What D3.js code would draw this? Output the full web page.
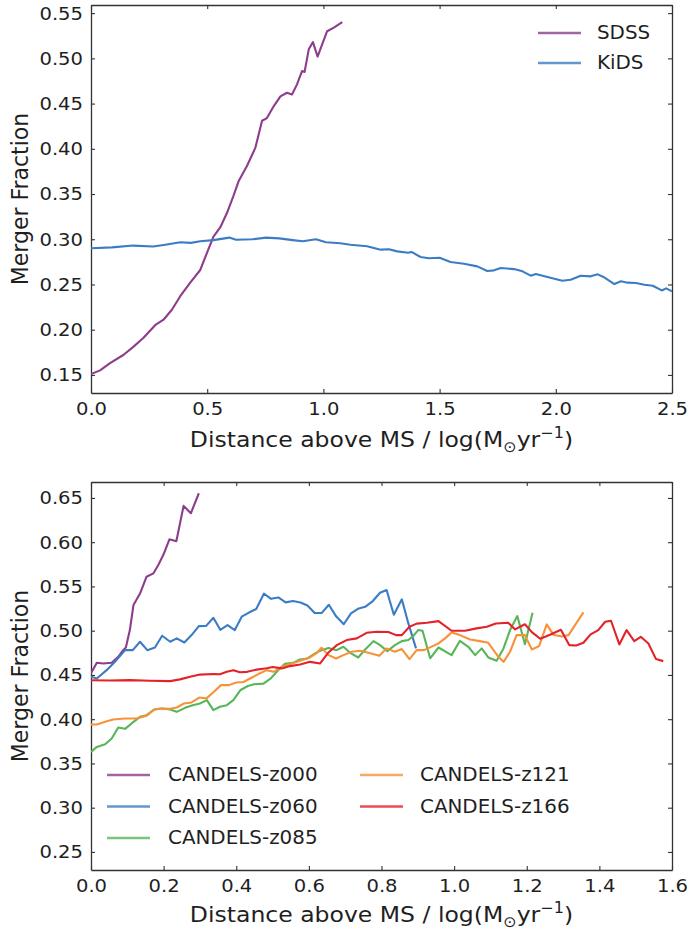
<!DOCTYPE html>
<html><head><meta charset="utf-8">
<script src="https://cdn.jsdelivr.net/npm/d3@7"></script>
<style>
body{margin:0;background:#fff;}
svg text{font-family:"DejaVu Sans",sans-serif;fill:#1f1f1f;}
.sx-m{transform-box:fill-box;transform-origin:center;transform:scaleX(1.07);}
.sx-s{transform-box:fill-box;transform-origin:left center;transform:scaleX(1.07);}
.sx-e{transform-box:fill-box;transform-origin:right center;transform:scaleX(1.07);}
</style></head><body>
<svg id="c" width="688" height="932"></svg>
<script>
// ---------- Top panel data ----------
const sdssX=[0,0.039,0.082,0.139,0.182,0.226,0.276,0.312,0.348,0.384,0.427,0.470,0.499,0.527,0.556,0.585,0.613,0.635,0.671,0.707,0.736,0.757,0.786,0.815,0.843,0.865,0.886,0.908,0.919,0.937,0.955,0.975,1.016,1.045,1.081];
const sdssY=[0.151,0.155,0.163,0.172,0.181,0.191,0.205,0.211,0.222,0.237,0.252,0.266,0.285,0.303,0.313,0.329,0.348,0.364,0.381,0.401,0.431,0.434,0.447,0.458,0.462,0.460,0.471,0.486,0.485,0.510,0.518,0.502,0.530,0.534,0.540];
const kidsX=[0,0.09,0.182,0.268,0.32,0.384,0.43,0.47,0.527,0.595,0.624,0.695,0.753,0.81,0.868,0.911,0.968,1.011,1.073,1.116,1.188,1.246,1.282,1.318,1.365,1.379,1.418,1.454,1.5,1.547,1.605,1.662,1.705,1.734,1.763,1.82,1.857,1.892,1.914,1.964,2.028,2.064,2.107,2.15,2.18,2.208,2.252,2.28,2.309,2.345,2.381,2.417,2.456,2.475,2.5];
const kidsY=[0.290,0.291,0.293,0.292,0.294,0.2966,0.296,0.2977,0.299,0.3018,0.2995,0.300,0.3018,0.301,0.299,0.2977,0.300,0.2966,0.2955,0.294,0.2922,0.2885,0.289,0.2866,0.285,0.286,0.2804,0.279,0.2795,0.2749,0.273,0.270,0.2649,0.2656,0.2682,0.267,0.2645,0.2597,0.2616,0.2583,0.2541,0.2552,0.2597,0.259,0.2612,0.2579,0.2505,0.2535,0.252,0.2516,0.2497,0.2486,0.2434,0.2457,0.2423];
const topSeries=["SDSS","KiDS"];
const topXTicks=[0,0.5,1.0,1.5,2.0,2.5];
const topYTicks=[0.15,0.20,0.25,0.30,0.35,0.40,0.45,0.50,0.55];

// ---------- Bottom panel data ----------
const z000X=[0,0.016,0.034,0.057,0.075,0.085,0.096,0.107,0.117,0.135,0.153,0.172,0.185,0.199,0.216,0.235,0.255,0.275,0.297];
const z000Y=[0.452,0.4637,0.463,0.4637,0.4705,0.4762,0.481,0.5007,0.529,0.542,0.561,0.5648,0.574,0.5855,0.6032,0.601,0.641,0.6327,0.6553];
const z060X=[0,0.016,0.043,0.066,0.094,0.115,0.135,0.155,0.176,0.196,0.218,0.236,0.257,0.277,0.297,0.317,0.337,0.356,0.376,0.396,0.415,0.435,0.455,0.476,0.496,0.516,0.536,0.556,0.577,0.596,0.616,0.635,0.655,0.675,0.696,0.716,0.735,0.755,0.776,0.796,0.814,0.834,0.856,0.874,0.895];
const z060Y=[0.448,0.446,0.4554,0.4649,0.478,0.478,0.4875,0.478,0.481,0.4943,0.4875,0.4913,0.4867,0.495,0.5052,0.5054,0.5146,0.501,0.5063,0.5007,0.5158,0.5205,0.5245,0.5418,0.536,0.5375,0.532,0.5335,0.5318,0.5284,0.5199,0.5199,0.5293,0.5162,0.5073,0.5195,0.5247,0.527,0.5335,0.5429,0.5459,0.518,0.5354,0.5082,0.480];
const z085X=[0,0.016,0.039,0.057,0.075,0.094,0.117,0.135,0.153,0.174,0.195,0.218,0.236,0.259,0.280,0.300,0.319,0.337,0.355,0.374,0.392,0.412,0.432,0.449,0.475,0.496,0.517,0.534,0.557,0.575,0.596,0.617,0.635,0.654,0.676,0.695,0.716,0.736,0.755,0.778,0.796,0.816,0.837,0.856,0.874,0.888,0.901,0.913,0.934,0.957,0.993,1.016,1.039,1.058,1.076,1.094,1.117,1.136,1.154,1.174,1.195,1.216];
const z085Y=[0.363,0.3687,0.3717,0.3781,0.3906,0.3891,0.397,0.4026,0.4045,0.4109,0.4121,0.4109,0.4083,0.4128,0.4158,0.4177,0.4215,0.4102,0.414,0.4158,0.4215,0.433,0.4375,0.4394,0.4402,0.4465,0.456,0.4625,0.4637,0.4675,0.4686,0.4743,0.478,0.4805,0.478,0.4818,0.4743,0.4697,0.4788,0.4882,0.4837,0.4769,0.4837,0.4882,0.4894,0.4943,0.5007,0.5,0.4688,0.481,0.4724,0.4886,0.4818,0.4724,0.48,0.4698,0.466,0.48,0.5007,0.5165,0.4848,0.5203];
const z121X=[0,0.016,0.039,0.061,0.094,0.126,0.153,0.174,0.195,0.218,0.236,0.256,0.277,0.298,0.318,0.337,0.358,0.380,0.400,0.420,0.438,0.461,0.484,0.503,0.525,0.548,0.576,0.603,0.62,0.635,0.654,0.675,0.695,0.718,0.741,0.764,0.794,0.814,0.837,0.856,0.877,0.897,0.917,0.938,0.957,0.975,0.993,1.016,1.044,1.071,1.094,1.122,1.136,1.154,1.172,1.195,1.214,1.234,1.255,1.273,1.296,1.315,1.333,1.356];
const z121Y=[0.394,0.394,0.397,0.3996,0.4007,0.4007,0.4038,0.4109,0.4121,0.4117,0.4132,0.4177,0.4189,0.4245,0.4235,0.4304,0.4385,0.4385,0.4415,0.442,0.446,0.451,0.4554,0.4535,0.4592,0.4622,0.466,0.4698,0.4743,0.4807,0.4724,0.4686,0.4724,0.4762,0.4773,0.475,0.4716,0.48,0.4762,0.4792,0.4679,0.478,0.478,0.482,0.4856,0.4913,0.498,0.495,0.4901,0.4882,0.4863,0.4705,0.4648,0.4762,0.495,0.495,0.4788,0.4826,0.5071,0.4955,0.4935,0.495,0.5063,0.5207];
const z166X=[0,0.052,0.107,0.162,0.218,0.245,0.273,0.300,0.337,0.355,0.374,0.392,0.41,0.430,0.456,0.484,0.5,0.525,0.548,0.576,0.603,0.631,0.654,0.677,0.704,0.732,0.759,0.787,0.819,0.84,0.856,0.877,0.897,0.925,0.957,0.993,1.03,1.062,1.09,1.115,1.149,1.168,1.181,1.195,1.214,1.237,1.264,1.294,1.317,1.336,1.356,1.376,1.397,1.416,1.432,1.455,1.475,1.496,1.514,1.535,1.556,1.576];
const z166Y=[0.444,0.4437,0.4441,0.4434,0.443,0.445,0.448,0.4504,0.451,0.4508,0.4535,0.4554,0.453,0.4535,0.456,0.4575,0.459,0.4574,0.46,0.4618,0.4648,0.463,0.4754,0.4837,0.4894,0.4913,0.4976,0.4988,0.4985,0.495,0.495,0.5045,0.508,0.5089,0.5108,0.4999,0.4999,0.5026,0.5044,0.5082,0.5089,0.5014,0.5044,0.5073,0.4984,0.4909,0.4955,0.501,0.4837,0.4833,0.4863,0.4958,0.5007,0.5101,0.5112,0.4845,0.5007,0.4882,0.4931,0.4856,0.4679,0.4656];
const bottomSeries=["CANDELS-z000","CANDELS-z060","CANDELS-z085","CANDELS-z121","CANDELS-z166"];
const bottomXTicks=[0,0.2,0.4,0.6,0.8,1.0,1.2,1.4,1.6];
const bottomYTicks=[0.25,0.30,0.35,0.40,0.45,0.50,0.55,0.60,0.65];

const yLabel="Merger Fraction";
const xLabelMain="Distance above MS / log(M";

// ---------- styling ----------
const colors={purple:"#8c3d8c",blue:"#3b7dc4",green:"#57b657",orange:"#f7923a",red:"#e4222a"};
const svg=d3.select("#c");
const SX=1.07;

function panel(cfg){
  const x=d3.scaleLinear().domain(cfg.xDomain).range([91,672]);
  const y=d3.scaleLinear().domain(cfg.yDomain).range([cfg.bottom,cfg.top]);
  const g=svg.append("g");
  const fmtX=d3.format(".1f"), fmtY=d3.format(".2f");
  const ax=[
    g.append("g").attr("transform",`translate(0,${cfg.bottom})`).call(d3.axisBottom(x).tickValues(cfg.xTicks).tickFormat(fmtX).tickSize(-4).tickSizeOuter(0).tickPadding(9)),
    g.append("g").attr("transform",`translate(91,0)`).call(d3.axisLeft(y).tickValues(cfg.yTicks).tickFormat(fmtY).tickSize(-4).tickSizeOuter(0).tickPadding(8)),
    g.append("g").attr("transform",`translate(0,${cfg.top})`).call(d3.axisTop(x).tickValues(cfg.xTicks).tickFormat("").tickSize(-4).tickSizeOuter(0)),
    g.append("g").attr("transform",`translate(672,0)`).call(d3.axisRight(y).tickValues(cfg.yTicks).tickFormat("").tickSize(-4).tickSizeOuter(0))
  ];
  ax.forEach(a=>{
    a.select(".domain").attr("stroke","#333").attr("stroke-width",1.3);
    a.selectAll(".tick line").attr("stroke","#333").attr("stroke-width",1.1);
    a.selectAll(".tick text").attr("font-size",18.3).attr("fill","#1f1f1f").style("font-family","DejaVu Sans");
  });
  ax[0].selectAll(".tick text").attr("class","sx-m");
  ax[1].selectAll(".tick text").attr("class","sx-e");

  const line=d3.line().x(d=>x(d[0])).y(d=>y(d[1]));
  const clip="clip"+cfg.id;
  svg.append("clipPath").attr("id",clip).append("rect").attr("x",91).attr("y",cfg.top).attr("width",581).attr("height",cfg.bottom-cfg.top);
  const lg=g.append("g").attr("clip-path",`url(#${clip})`);
  cfg.series.forEach(s=>{
    const data=s.xs.map((v,i)=>[v,s.ys[i]]);
    lg.append("path").datum(data).attr("d",line).attr("fill","none").attr("stroke",s.color).attr("stroke-width",2.1).attr("stroke-linejoin","round");
  });

  // y label
  g.append("text").attr("transform",`translate(28,${(cfg.top+cfg.bottom)/2}) scale(${SX},1) rotate(-90)`)
    .attr("text-anchor","middle").attr("font-size",22).text(yLabel);
  // x label
  const t=g.append("text").attr("class","sx-m").attr("x",381.5).attr("y",cfg.xLabelY).attr("text-anchor","middle").attr("font-size",22);
  t.append("tspan").text(xLabelMain);
  t.append("tspan").attr("font-size",15).attr("dy",5).text("⊙");
  t.append("tspan").attr("dy",-5).text("yr");
  t.append("tspan").attr("font-size",15).attr("dy",-9).text("−1");
  t.append("tspan").attr("dy",9).text(")");

  // legend
  cfg.legend.forEach(l=>{
    g.append("line").attr("x1",l.x).attr("x2",l.x+43).attr("y1",l.y).attr("y2",l.y)
      .attr("stroke",l.color).attr("stroke-width",2.6).attr("stroke-opacity",0.8);
    g.append("text").attr("class","sx-s").attr("x",l.x+l.off).attr("y",l.y+6.5).attr("font-size",18.6).text(l.name);
  });
}

panel({id:"a",xDomain:[0,2.5],yDomain:[0.13,0.559],top:5,bottom:393,xTicks:topXTicks,yTicks:topYTicks,xLabelY:447,
  series:[{xs:sdssX,ys:sdssY,color:colors.purple},{xs:kidsX,ys:kidsY,color:colors.blue}],
  legend:[{name:topSeries[0],x:538,y:33,off:59,color:colors.purple},{name:topSeries[1],x:538,y:63,off:59,color:colors.blue}]});

panel({id:"b",xDomain:[0,1.6],yDomain:[0.2296,0.668],top:482,bottom:870,xTicks:bottomXTicks,yTicks:bottomYTicks,xLabelY:922,
  series:[{xs:z000X,ys:z000Y,color:colors.purple},{xs:z060X,ys:z060Y,color:colors.blue},{xs:z085X,ys:z085Y,color:colors.green},{xs:z121X,ys:z121Y,color:colors.orange},{xs:z166X,ys:z166Y,color:colors.red}],
  legend:[{name:bottomSeries[0],x:107,y:775,off:61,color:colors.purple},{name:bottomSeries[1],x:107,y:806.5,off:61,color:colors.blue},{name:bottomSeries[2],x:107,y:838,off:61,color:colors.green},
          {name:bottomSeries[3],x:360,y:775,off:60,color:colors.orange},{name:bottomSeries[4],x:360,y:806.5,off:60,color:colors.red}]});
</script>
</body></html>
